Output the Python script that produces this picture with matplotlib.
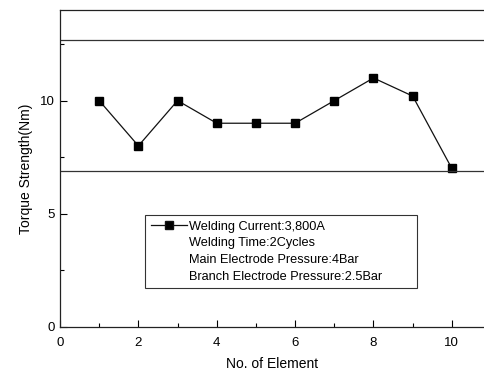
import matplotlib
matplotlib.use('Agg')
import matplotlib.pyplot as plt
from matplotlib.lines import Line2D
from matplotlib.ticker import MultipleLocator

# data
elements = [1, 2, 3, 4, 5, 6, 7, 8, 9, 10]
torque = [10, 8, 10, 9, 9, 9, 10, 11, 10.2, 7]
upper_limit = 12.7
lower_limit = 6.9
legend_labels = [
    'Welding Current:3,800A',
    'Welding Time:2Cycles',
    'Main Electrode Pressure:4Bar',
    'Branch Electrode Pressure:2.5Bar',
]

plt.rcParams.update({
    'font.family': ['Liberation Sans', 'DejaVu Sans'],
    'font.size': 9.2,
})

fig = plt.figure(figsize=(4.84, 3.74), dpi=100)
ax = fig.add_axes([0.124, 0.126, 0.876, 0.847])

ax.plot(elements, torque, color='#111111', linewidth=0.9, marker='s',
        markersize=5.5, markerfacecolor='black', markeredgecolor='black')
ax.axhline(upper_limit, color='#333333', linewidth=0.9)
ax.axhline(lower_limit, color='#333333', linewidth=0.9)

ax.set_xlim(0, 10.82)
ax.set_ylim(0, 14)
ax.xaxis.set_major_locator(MultipleLocator(2))
ax.xaxis.set_minor_locator(MultipleLocator(1))
ax.yaxis.set_major_locator(MultipleLocator(5))
ax.yaxis.set_minor_locator(MultipleLocator(2.5))
ax.tick_params(which='both', direction='in', top=False, right=False,
               labelsize=9.5)
ax.tick_params(which='major', length=5, width=0.8)
ax.tick_params(which='minor', length=3, width=0.8)
ax.tick_params(axis='x', which='major', pad=7)
ax.spines['right'].set_visible(False)
for s in ['left', 'bottom', 'top']:
    ax.spines[s].set_linewidth(0.9)
    ax.spines[s].set_color('#222222')

ax.set_xlabel('No. of Element', fontsize=10, labelpad=6)
ax.set_ylabel('Torque Strength(Nm)', fontsize=10, labelpad=5)

handles = [Line2D([], [], color='#111111', linewidth=0.9, marker='s',
                  markersize=5.5, markerfacecolor='black')]
handles += [Line2D([], [], linestyle='none') for _ in legend_labels[1:]]
leg = ax.legend(handles, legend_labels, loc='upper left',
                bbox_to_anchor=(0.2005, 0.0, 0.6415, 0.353), mode='expand',
                frameon=True, fancybox=False,
                edgecolor='black', handlelength=2.8, handletextpad=0.2,
                labelspacing=0.36, borderpad=0.45, borderaxespad=0)
leg.get_frame().set_linewidth(0.8)

fig.savefig('out.png', dpi=100, facecolor='white')
